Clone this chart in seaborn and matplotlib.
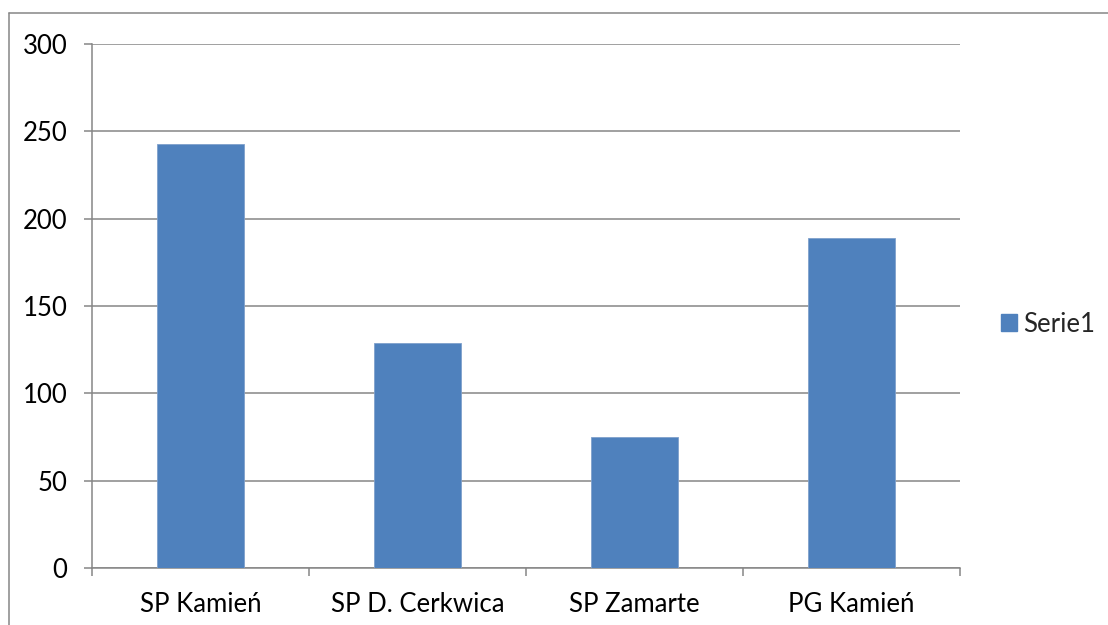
import seaborn as sns
import matplotlib.pyplot as plt
import pandas as pd
from matplotlib.lines import Line2D
from matplotlib.patches import Patch

# Data
schools = ["SP Kamień", "SP D. Cerkwica", "SP Zamarte", "PG Kamień"]
serie1 = [243, 129, 75, 189]
y_ticks = [0, 50, 100, 150, 200, 250, 300]

df = pd.DataFrame({"school": schools, "value": serie1})

sns.set_style("white")
plt.rcParams['font.family'] = ['Lato', 'DejaVu Sans']

fig = plt.figure(figsize=(11.08, 6.25), dpi=100)
ax = fig.add_axes([92 / 1108, 1 - 568 / 625, (960 - 92) / 1108, (568 - 44) / 625])

bar_color = '#4F81BD'
grid_color = '#868686'
fs = 18.5
lw = 1.1

sns.barplot(data=df, x='school', y='value', color=bar_color, saturation=1, width=0.4,
            edgecolor='#7FA0CC', linewidth=0.6, ax=ax, zorder=3)

# Excel-like axes
ax.set_ylim(0, 300)
ax.set_xlim(-0.5, len(schools) - 0.5)
ax.set_yticks(y_ticks)
ax.yaxis.grid(True, color=grid_color, linewidth=lw, zorder=0)
ax.set_axisbelow(True)
for s in ['top', 'right']:
    ax.spines[s].set_visible(False)
for s in ['left', 'bottom']:
    ax.spines[s].set_color(grid_color)
    ax.spines[s].set_linewidth(lw)

ax.set_xlabel('')
ax.set_ylabel('')
ax.tick_params(axis='y', direction='out', length=5.8, width=lw, color=grid_color,
               labelsize=fs, labelcolor='black', pad=12, left=True)
ax.tick_params(axis='x', length=0, labelsize=fs, labelcolor='black', pad=17)

# category boundary ticks on x-axis
ax.set_xticks([i - 0.5 for i in range(len(schools) + 1)], minor=True)
ax.tick_params(axis='x', which='minor', direction='out', length=5.8, width=lw,
               color=grid_color, bottom=True)

# legend
handles = [Patch(facecolor=bar_color, edgecolor=bar_color, label='Serie1')]
fig.legend(handles=handles, loc='center left', bbox_to_anchor=(991 / 1108, 1 - 324 / 625),
           frameon=False, fontsize=fs, handlelength=0.6, handleheight=0.6,
           handletextpad=0.25, borderaxespad=0)

# outer chart-area border (top and left visible)
fig.add_artist(Line2D([9 / 1108, 1.0], [1 - 13 / 625, 1 - 13 / 625],
                      transform=fig.transFigure, color=grid_color, linewidth=lw))
fig.add_artist(Line2D([9 / 1108, 9 / 1108], [0, 1 - 13 / 625],
                      transform=fig.transFigure, color=grid_color, linewidth=lw))

fig.savefig('out.png', dpi=100)
